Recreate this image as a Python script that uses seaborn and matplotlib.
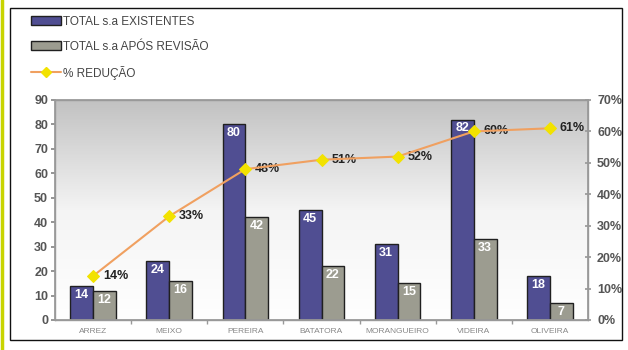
import numpy as np
import pandas as pd
import matplotlib
matplotlib.use("Agg")
import matplotlib.pyplot as plt
import seaborn as sns
from matplotlib.patches import Patch, Rectangle
from matplotlib.lines import Line2D
from matplotlib.colors import LinearSegmentedColormap
from matplotlib.ticker import FixedLocator

categories = ["ARREZ", "MEIXO", "PEREIRA", "BATATORA", "MORANGUEIRO", "VIDEIRA", "OLIVEIRA"]
existentes = [14, 24, 80, 45, 31, 82, 18]
apos_revisao = [12, 16, 42, 22, 15, 33, 7]
reducao = [14, 33, 48, 51, 52, 60, 61]
series_names = ["TOTAL s.a EXISTENTES", "TOTAL s.a APÓS REVISÃO"]
line_name = "% REDUÇÃO"

sns.set_theme(style="white")
plt.rcParams['font.family'] = ['Liberation Sans', 'DejaVu Sans']

df = pd.DataFrame({
    "cat": categories * 2,
    "val": existentes + apos_revisao,
    "serie": [series_names[0]] * len(categories) + [series_names[1]] * len(categories),
})
dfl = pd.DataFrame({"cat": categories, "pct": reducao})

purple = "#504e92"
grey = "#9c9c90"
fig = plt.figure(figsize=(6.28, 3.5), dpi=100)
ax = fig.add_axes([55/628, 30/350, 533/628, 220/350])

# gradient background
cmap = LinearSegmentedColormap.from_list("g", ["#ffffff", "#f4f4f4", "#c2c2c2"])
ax.imshow(np.linspace(0, 1, 200).reshape(-1, 1), extent=[0, 1, 0, 1], origin="lower",
          transform=ax.transAxes, cmap=cmap, aspect="auto", zorder=0)

sns.barplot(data=df, x="cat", y="val", hue="serie", palette=[purple, grey],
            width=0.6, edgecolor="#202020", linewidth=1.0, ax=ax, legend=False,
            zorder=2, saturation=1)
ax.set_xlim(-0.5, len(categories) - 0.5)
ax.set_ylim(0, 90)
ax.set_yticks(range(0, 91, 10))
ax.set_xlabel("")
ax.set_ylabel("")
ax.tick_params(axis="y", labelsize=9, labelcolor="#555555", length=3, color="#888888",
               direction="out", left=True, pad=2)
ax.tick_params(axis="x", labelsize=6, labelcolor="#888888", length=0, pad=6)
for lab in ax.get_yticklabels():
    lab.set_fontweight("bold")
ax.xaxis.set_minor_locator(FixedLocator(np.arange(0.5, len(categories) - 1, 1)))
ax.tick_params(axis="x", which="minor", length=3, color="#999999", bottom=True, direction="out")
for s in ["left", "bottom", "top", "right"]:
    ax.spines[s].set_color("#999999")
    ax.spines[s].set_linewidth(1.0)

for cont in ax.containers:
    for bar in cont:
        h = bar.get_height()
        ax.text(bar.get_x() + bar.get_width() / 2, h - 1.2, f"{int(round(h))}",
                ha="center", va="top", color="white", fontsize=9, fontweight="bold", zorder=5)

ax2 = ax.twinx()
sns.lineplot(data=dfl, x="cat", y="pct", ax=ax2, color="#f0a060", linewidth=1.5,
             marker="D", markersize=6, markerfacecolor="#f2e200", markeredgecolor="#f2e200",
             sort=False, zorder=4)
ax2.set_ylim(0, 70)
ax2.set_yticks(range(0, 71, 10))
ax2.set_yticklabels([f"{v}%" for v in range(0, 71, 10)])
ax2.set_ylabel("")
ax2.set_xlabel("")
ax2.tick_params(axis="y", labelsize=9, labelcolor="#555555", length=5, color="#999999",
                direction="inout", right=True, pad=4)
for lab in ax2.get_yticklabels():
    lab.set_fontweight("bold")
for s in ["left", "bottom", "top", "right"]:
    ax2.spines[s].set_color("#999999")
for i, p in enumerate(reducao):
    ax2.annotate(f"{p}%", (i, p), xytext=(7, 0), textcoords="offset points",
                 ha="left", va="center", fontsize=9, fontweight="bold", color="#222222")

handles = [Patch(facecolor=purple, edgecolor="#202020", label=series_names[0]),
           Patch(facecolor=grey, edgecolor="#202020", label=series_names[1]),
           Line2D([0], [0], color="#f0a060", lw=1.5, marker="D", markersize=5,
                  markerfacecolor="#f2e200", markeredgecolor="#f2e200", label=line_name)]
leg = fig.legend(handles=handles, loc="upper left", bbox_to_anchor=(26/628, 1 - 11/350),
                 frameon=False, fontsize=8.5, handlelength=2.6, handleheight=0.8,
                 labelspacing=1.1, handletextpad=0.1, borderaxespad=0)
for t in leg.get_texts():
    t.set_color("#444444")

fig.add_artist(Rectangle((10/628, 10/350), 612/628, 332/350, transform=fig.transFigure,
                         fill=False, edgecolor="#111111", linewidth=1.0))
fig.add_artist(Line2D([1.5/628, 1.5/628], [0, 1], transform=fig.transFigure,
                      color="#c8d400", linewidth=2.5))

fig.savefig("out.png", dpi=100)
